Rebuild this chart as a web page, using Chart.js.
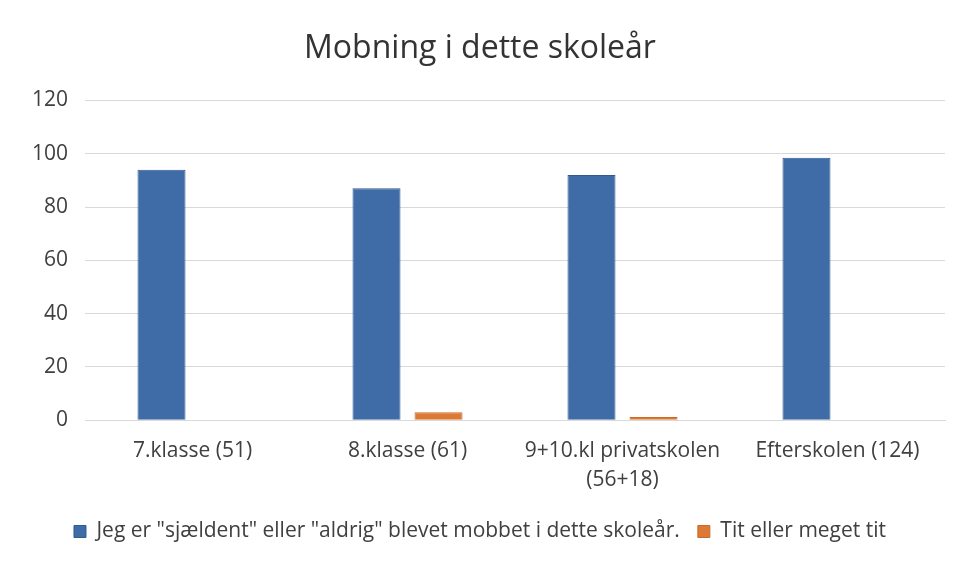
<!DOCTYPE html>
<html lang="da">
<head>
<meta charset="UTF-8">
<title>Mobning i dette skoleår</title>
<script src="https://cdn.jsdelivr.net/npm/chart.js@4"></script>
<style>
  * { margin: 0; padding: 0; box-sizing: border-box; }
  body { background: #fff; width: 967px; height: 573px; overflow: hidden; }
  #wrap { position: relative; width: 967px; height: 573px; }
</style>
</head>
<body>
<div id="wrap"><canvas id="chart"></canvas></div>
<script>
const categories = ['7.klasse (51)', '8.klasse (61)', ['9+10.kl privatskolen', '(56+18)'], 'Efterskolen (124)'];
const seriesNames = ['Jeg er "sjældent" eller "aldrig" blevet mobbet i dette skoleår.', 'Tit eller meget tit'];
const sjaeldent = [94, 87, 92, 98.5];
const tit = [0, 3, 1.2, 0];
const yTicks = [0, 20, 40, 60, 80, 100, 120];

Chart.defaults.font.family = "'Open Sans', 'Noto Sans', sans-serif";
Chart.defaults.color = '#404040';

new Chart(document.getElementById('chart'), {
  type: 'bar',
  data: {
    labels: categories,
    datasets: [
      { label: seriesNames[0], data: sjaeldent, backgroundColor: '#3f6ca6', borderColor: '#2f5a92', borderWidth: 1 },
      { label: seriesNames[1], data: tit, backgroundColor: '#dc7a35', borderColor: '#c86a28', borderWidth: 1 }
    ]
  },
  options: {
    responsive: true,
    maintainAspectRatio: false,
    animation: false,
    categoryPercentage: 0.577,
    barPercentage: 0.774,
    layout: { padding: { left: 15, right: 22, top: 22, bottom: 21 } },
    plugins: {
      title: {
        display: true,
        text: 'Mobning i dette skoleår',
        color: '#333',
        font: { size: 32, weight: 'normal' },
        padding: { top: 8, bottom: 32 }
      },
      legend: {
        position: 'bottom',
        labels: {
          boxWidth: 12, boxHeight: 12, padding: 18,
          color: '#404040',
          font: { size: 21 }
        }
      },
      tooltip: { enabled: false }
    },
    scales: {
      x: {
        grid: { display: false },
        border: { color: '#d9d9d9' },
        ticks: { font: { size: 21, lineHeight: 1.4 }, color: '#404040', padding: 8, maxRotation: 0 }
      },
      y: {
        min: 0, max: 120,
        afterBuildTicks: axis => { axis.ticks = yTicks.map(v => ({ value: v })); },
        grid: { color: '#d9d9d9', drawTicks: false },
        border: { display: false },
        ticks: { font: { size: 21 }, color: '#404040', padding: 17 }
      }
    }
  }
});
</script>
</body>
</html>
